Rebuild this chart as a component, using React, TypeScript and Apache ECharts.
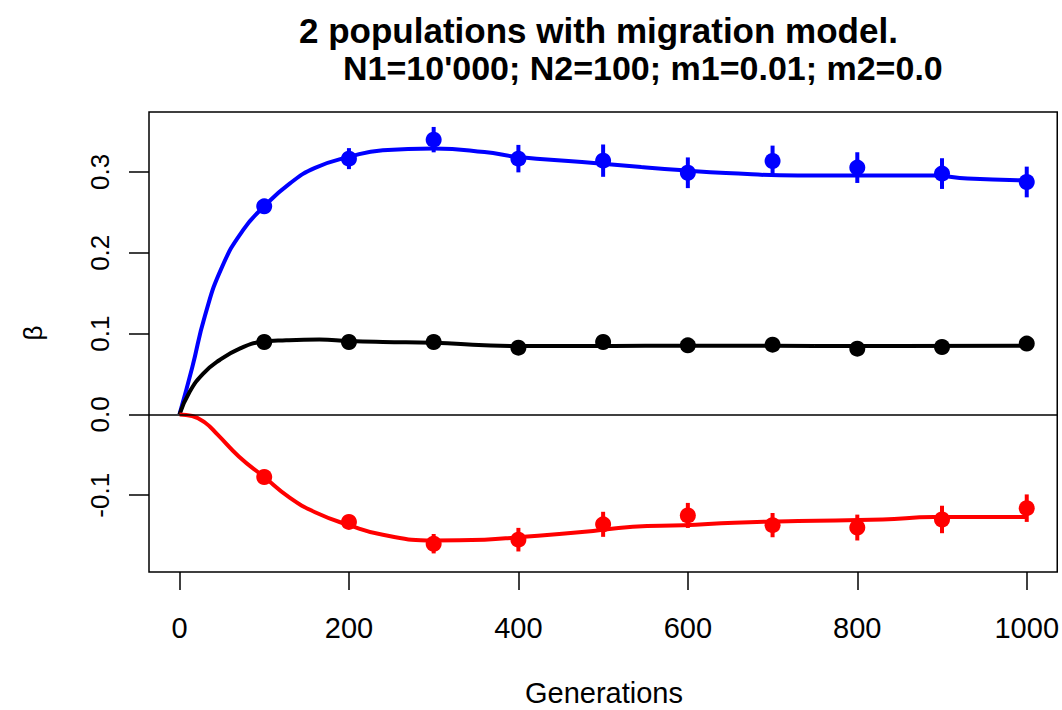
import React, { useEffect, useRef } from "react";
import * as echarts from "echarts";

// Sampling generations with simulated mean beta and its standard error
const GENERATIONS = [100, 200, 300, 400, 500, 600, 700, 800, 900, 1000];

const BLUE_MEAN = [0.2575, 0.3165, 0.34, 0.3165, 0.314, 0.299, 0.3136, 0.3054, 0.298, 0.2876];
const BLUE_ERR = [0.006, 0.013, 0.0157, 0.017, 0.02, 0.019, 0.019, 0.019, 0.019, 0.019];

const BLACK_MEAN = [0.0896, 0.0896, 0.0896, 0.0826, 0.0896, 0.0855, 0.0863, 0.0814, 0.0834, 0.0876];
const BLACK_ERR = [0.004, 0.004, 0.004, 0.004, 0.004, 0.004, 0.004, 0.004, 0.004, 0.004];

const RED_MEAN = [-0.0775, -0.133, -0.16, -0.155, -0.136, -0.125, -0.137, -0.14, -0.13, -0.116];
const RED_ERR = [0.005, 0.006, 0.012, 0.0146, 0.0155, 0.0155, 0.015, 0.016, 0.017, 0.017];

// Theoretical expectation curves
const BLUE_FIT_X = [0, 15, 30, 50, 75, 100, 130, 160, 200, 240, 300, 360, 400, 475, 545, 595, 645, 730, 890, 930, 1000];
const BLUE_FIT_Y = [0, 0.058, 0.122, 0.182, 0.228, 0.2575, 0.2856, 0.305, 0.3185, 0.327, 0.329, 0.3247, 0.3185, 0.3124, 0.306, 0.302, 0.2988, 0.2955, 0.2955, 0.2918, 0.2897];

const BLACK_FIT_X = [0, 12, 28, 47, 71, 96, 126, 165, 200, 240, 300, 360, 400, 475, 550, 650, 750, 850, 1000];
const BLACK_FIT_Y = [0, 0.028, 0.0505, 0.067, 0.0814, 0.0896, 0.0917, 0.0926, 0.0908, 0.0897, 0.0888, 0.0855, 0.0845, 0.0845, 0.085, 0.085, 0.0848, 0.0848, 0.085];

const RED_FIT_X = [0, 15, 30, 45, 70, 100, 130, 160, 200, 240, 300, 360, 400, 475, 535, 595, 655, 730, 830, 890, 1000];
const RED_FIT_Y = [0, -0.002, -0.01, -0.025, -0.052, -0.0775, -0.103, -0.121, -0.137, -0.149, -0.156, -0.155, -0.152, -0.1455, -0.139, -0.137, -0.134, -0.132, -0.13, -0.127, -0.127];

const X_TICKS = [0, 200, 400, 600, 800, 1000];
const Y_TICKS = [-0.1, 0, 0.1, 0.2, 0.3];

const TITLE_1 = "2 populations with migration model.";
const TITLE_2 = "N1=10'000; N2=100; m1=0.01; m2=0.0";
const X_NAME = "Generations";
const Y_NAME = "β";

const FONT = "'Liberation Sans', Arial, Helvetica, sans-serif";

const zip = (xs: number[], ys: number[]) => xs.map((x, i) => [x, ys[i]]);
const bars = (means: number[], errs: number[]) =>
  GENERATIONS.map((g, i) => [g, means[i] - errs[i], means[i] + errs[i]]);

function fitSeries(name: string, xs: number[], ys: number[], color: string) {
  return {
    name,
    type: "line",
    data: zip(xs, ys),
    showSymbol: false,
    smooth: 0.5,
    lineStyle: { color, width: 4 },
    z: 2,
  };
}

function errorSeries(name: string, means: number[], errs: number[], color: string) {
  return {
    name,
    type: "custom",
    data: bars(means, errs),
    encode: { x: 0, y: [1, 2] },
    renderItem: (_params: any, api: any) => {
      const x = api.value(0);
      const top = api.coord([x, api.value(2)]);
      const bottom = api.coord([x, api.value(1)]);
      return {
        type: "line",
        shape: { x1: top[0], y1: top[1], x2: bottom[0], y2: bottom[1] },
        style: { stroke: color, lineWidth: 4 },
      };
    },
    z: 3,
  };
}

function pointSeries(name: string, means: number[], color: string) {
  return {
    name,
    type: "scatter",
    data: zip(GENERATIONS, means),
    symbol: "circle",
    symbolSize: 16,
    itemStyle: { color, opacity: 1 },
    z: 4,
  };
}

export default function App() {
  const ref = useRef<HTMLDivElement>(null);

  useEffect(() => {
    if (!ref.current) return;
    const chart = echarts.init(ref.current, null, { renderer: "svg" });
    chart.setOption({
      animation: false,
      backgroundColor: "#fff",
      grid: {
        left: 149,
        top: 112,
        width: 909,
        height: 460,
        show: true,
        borderColor: "#000",
        borderWidth: 1.5,
        backgroundColor: "transparent",
      },
      xAxis: {
        type: "value",
        min: -36,
        max: 1036,
        axisLine: { show: false, onZero: false },
        splitLine: { show: false },
        axisTick: {
          show: true,
          length: 18,
          customValues: X_TICKS,
          lineStyle: { color: "#000", width: 1.5 },
        },
        axisLabel: {
          customValues: X_TICKS,
          margin: 41,
          fontSize: 29,
          fontFamily: FONT,
          color: "#000",
          formatter: (v: number) => String(v),
        },
      },
      yAxis: {
        type: "value",
        min: -0.195,
        max: 0.3742,
        axisLine: { show: false, onZero: false },
        splitLine: { show: false },
        axisTick: {
          show: true,
          length: 20,
          customValues: Y_TICKS,
          lineStyle: { color: "#000", width: 1.5 },
        },
        axisLabel: {
          customValues: Y_TICKS,
          rotate: 90,
          margin: 36,
          fontSize: 26,
          fontFamily: FONT,
          color: "#000",
          formatter: (v: number) => v.toFixed(1),
        },
      },
      graphic: [
        {
          type: "text",
          x: 299,
          y: 30,
          style: {
            text: TITLE_1,
            fontSize: 35,
            fontWeight: "bold",
            fontFamily: FONT,
            fill: "#000",
            align: "left",
            verticalAlign: "middle",
          },
        },
        {
          type: "text",
          x: 343,
          y: 68,
          style: {
            text: TITLE_2,
            fontSize: 34,
            fontWeight: "bold",
            fontFamily: FONT,
            fill: "#000",
            align: "left",
            verticalAlign: "middle",
          },
        },
        {
          type: "text",
          x: 604,
          y: 693,
          style: {
            text: X_NAME,
            fontSize: 29,
            fontFamily: FONT,
            fill: "#000",
            align: "center",
            verticalAlign: "middle",
          },
        },
        {
          type: "text",
          x: 33,
          y: 333,
          rotation: Math.PI / 2,
          style: {
            text: Y_NAME,
            fontSize: 26,
            fontFamily: FONT,
            fill: "#000",
            align: "center",
            verticalAlign: "middle",
          },
        },
      ],
      series: [
        {
          ...fitSeries("blue fit", BLUE_FIT_X, BLUE_FIT_Y, "#0000ff"),
          markLine: {
            silent: true,
            symbol: ["none", "none"],
            label: { show: false },
            lineStyle: { color: "#000", width: 1.5, type: "solid" },
            data: [{ yAxis: 0 }],
          },
        },
        fitSeries("black fit", BLACK_FIT_X, BLACK_FIT_Y, "#000000"),
        fitSeries("red fit", RED_FIT_X, RED_FIT_Y, "#ff0000"),
        errorSeries("blue se", BLUE_MEAN, BLUE_ERR, "#0000ff"),
        errorSeries("black se", BLACK_MEAN, BLACK_ERR, "#000000"),
        errorSeries("red se", RED_MEAN, RED_ERR, "#ff0000"),
        pointSeries("blue", BLUE_MEAN, "#0000ff"),
        pointSeries("black", BLACK_MEAN, "#000000"),
        pointSeries("red", RED_MEAN, "#ff0000"),
      ],
    });
    return () => chart.dispose();
  }, []);

  return (
    <div
      ref={ref}
      style={{ position: "fixed", left: 0, top: 0, width: 1062, height: 710, background: "#fff" }}
    />
  );
}
